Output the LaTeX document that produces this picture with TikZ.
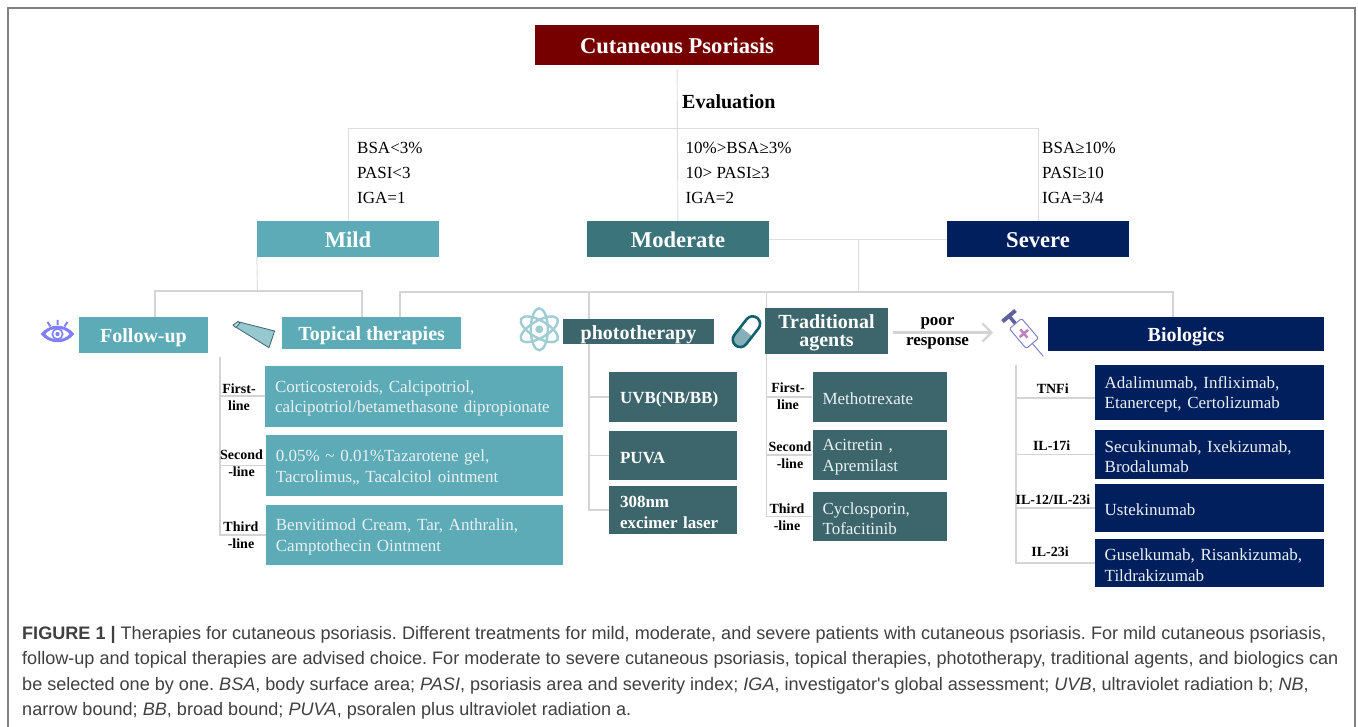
\documentclass[tikz,border=0pt]{standalone}
\usepackage{fontspec}
\setmainfont{Liberation Serif}
\newfontfamily\capfont{Liberation Sans}
\usetikzlibrary{arrows.meta, positioning}
\frenchspacing

\definecolor{maroonc}{HTML}{760000}
\definecolor{tealc}{HTML}{5DABB6}
\definecolor{modc}{HTML}{3C747C}
\definecolor{darkc}{HTML}{3D666C}
\definecolor{navyc}{HTML}{001F5C}
\definecolor{txtc}{HTML}{E9F1F3}
\definecolor{linec}{HTML}{D4D4D4}
\definecolor{pillc}{HTML}{10606F}

\tikzset{
    head/.style={text=white, font=\bfseries\fontsize{22.6}{25}\selectfont, align=center, inner sep=0pt, text height=17pt, text depth=0pt},
    subhead/.style={text=white, font=\bfseries\fontsize{20}{18}\selectfont, align=center, inner sep=0pt},
    oneline/.style={text height=16pt, text depth=0pt},
    drugbox/.style={text=txtc, font=\fontsize{17}{20.5}\selectfont, align=left, inner xsep=10pt, inner ysep=0pt, execute at begin node={\rule{0pt}{16pt}}},
    lightbox/.style={text=white, font=\bfseries\fontsize{17}{21}\selectfont, align=left, inner xsep=11pt, inner ysep=0pt, execute at begin node={\rule{0pt}{16pt}}},
    linelabel/.style={font=\bfseries\fontsize{14}{17}\selectfont, align=center, inner sep=0pt},
    critlabel/.style={font=\fontsize{17}{25}\selectfont, align=left, anchor=west, inner sep=0pt},
    thinline/.style={draw=linec!80, line width=0.9pt},
    treeline/.style={draw=linec, line width=1.8pt}
}

\begin{document}
\begin{tikzpicture}[x=1pt, y=-1pt]
    \path[use as bounding box, fill=white] (0,0) rectangle (1358,727);

    % --- Frame ---
    \draw[gray, line width=2pt] (8,727) -- (8,8) -- (1355,8) -- (1355,727);

    % --- Top level ---
    \node[head, fill=maroonc, minimum width=284pt, minimum height=40pt] (root) at (677,45) {Cutaneous Psoriasis};
    \node[head, fill=tealc, minimum width=182pt, minimum height=36pt] (mild) at (348,239) {Mild};
    \node[head, fill=modc, minimum width=182pt, minimum height=36pt] (moderate) at (678,239) {Moderate};
    \node[head, fill=navyc, minimum width=182pt, minimum height=36pt] (severe) at (1038,239) {Severe};

    \node[font=\bfseries\fontsize{20}{22}\selectfont, anchor=west, inner sep=0pt] (evaluation) at (682,102) {Evaluation};
    \node[critlabel] (critmild) at (357,173) {BSA<3\%\\PASI<3\\IGA=1};
    \node[critlabel] (critmod) at (685.5,173) {10\%>BSA≥3\%\\10> PASI≥3\\IGA=2};
    \node[critlabel] (critsev) at (1042,173) {BSA≥10\%\\PASI≥10\\IGA=3/4};

    \coordinate (evalj) at (678,128);
    \draw[thinline, shorten <=4pt] (root) -- (moderate);
    \draw[thinline] (evalj) -| (mild);
    \draw[thinline] (evalj) -| (severe);
    \draw[thinline] (moderate) -- (severe);

    % --- Treatment level ---
    \node[subhead, oneline, fill=tealc, minimum width=129pt, minimum height=36pt] (followup) at (143.5,335) {Follow-up};
    \node[subhead, oneline, fill=tealc, minimum width=178.5pt, minimum height=32pt] (topical) at (371.7,333) {Topical therapies};
    \node[subhead, oneline, fill=navyc, minimum width=276pt, minimum height=34pt] (biologics) at (1186,334) {Biologics};

    \coordinate (mildj) at (257.5,291);
    \coordinate (sevj) at (858.5,239);
    \coordinate (barj) at (858.5,292);
    \coordinate (fuj) at (155,291);
    \coordinate (tpj) at (362,291);
    \coordinate (tpk) at (400,292);
    \coordinate (bij) at (1173,292);
    \coordinate (phj) at (588.6,292);
    \coordinate (trj) at (766.5,292);

    \draw[thinline] (mild.south west) -- (mildj);
    \draw[thinline] (sevj) -- (barj);
    \draw[treeline] (fuj |- followup.north) -- (fuj) -- (tpj) -- (tpj |- topical.north);
    \draw[treeline] (tpk |- topical.north) -- (tpk) -- (bij) -- (bij |- biologics.north);

    % --- Topical therapies ---
    \node[drugbox, fill=tealc, text width=278pt, minimum height=61pt] (tpa) at (414,396.2) {Corticosteroids, Calcipotriol,\\calcipotriol/betamethasone dipropionate};
    \node[drugbox, fill=tealc, text width=277pt, minimum height=61pt] (tpb) at (414.4,465.5) {0.05\% \textasciitilde{} 0.01\%Tazarotene gel,\\Tacrolimus,, Tacalcitol ointment};
    \node[drugbox, fill=tealc, text width=277pt, minimum height=60pt] (tpc) at (414.4,535) {Benvitimod Cream, Tar, Anthralin,\\Camptothecin Ointment};
    \coordinate (tptop) at (220,357);
    \foreach \bx in {tpa,tpb,tpc}
        \draw[treeline] (tptop) |- (\bx.west);
    \node[linelabel] (tpla) at (239,397) {First-\\line};
    \node[linelabel] (tplb) at (241.5,463) {Second\\-line};
    \node[linelabel] (tplc) at (241,535) {Third\\-line};

    % --- Phototherapy ---
    \node[lightbox, fill=darkc, text width=106pt, minimum height=50pt] (pta) at (673,397) {UVB(NB/BB)};
    \node[lightbox, fill=darkc, text width=106pt, minimum height=49pt] (ptb) at (673,455.5) {PUVA};
    \node[lightbox, fill=darkc, text width=106pt, minimum height=48pt] (ptc) at (673,510) {308nm\\excimer laser};
    \foreach \bx in {pta,ptb,ptc}
        \draw[treeline] (phj) |- (\bx.west);
    \node[subhead, oneline, fill=darkc, minimum width=151pt, minimum height=25pt] (photo) at (638.5,331.5) {phototherapy};

    % --- Traditional agents ---
    \node[drugbox, fill=darkc, text width=114.5pt, minimum height=50pt] (tra) at (879.8,397) {Methotrexate};
    \node[drugbox, fill=darkc, text width=114.5pt, minimum height=50pt] (trb) at (879.8,455) {Acitretin ,\\Apremilast};
    \node[drugbox, fill=darkc, text width=114.5pt, minimum height=49pt] (trc) at (879.8,516.5) {Cyclosporin,\\Tofacitinib};
    \foreach \bx in {tra,trb,trc}
        \draw[treeline] (trj) |- (\bx.west);
    \node[subhead, fill=darkc, minimum width=123pt, minimum height=46pt] (tradit) at (826.5,331) {\rule{0pt}{17pt}Traditional\\agents};
    \node[linelabel] (trla) at (788,396.7) {First-\\line};
    \node[linelabel] (trlb) at (790,455.5) {Second\\-line};
    \node[linelabel] (trlc) at (787,517) {Third\\-line};

    % poor response
    \coordinate (polen) at (993,332.5);
    \draw[treeline, line width=2.2pt, shorten <=5pt, -{Straight Barb[length=9pt, width=18pt, line width=2.2pt]}] (tradit.east |- polen) -- (polen);
    \node[linelabel, font=\bfseries\fontsize{17}{20}\selectfont] (poor) at (937.5,333) {poor\\response};

    % --- Biologics ---
    \node[drugbox, fill=navyc, text width=209pt, minimum height=55pt] (bia) at (1209.2,392.5) {Adalimumab, Infliximab,\\Etanercept, Certolizumab};
    \node[drugbox, fill=navyc, text width=209pt, minimum height=49pt] (bib) at (1209.2,454.5) {Secukinumab, Ixekizumab,\\Brodalumab};
    \node[drugbox, fill=navyc, text width=209pt, minimum height=48pt] (bic) at (1209.2,508) {Ustekinumab};
    \node[drugbox, fill=navyc, text width=209pt, minimum height=48pt] (bid) at (1209.2,563) {Guselkumab, Risankizumab,\\Tildrakizumab};
    \coordinate (bitop) at (1015.7,365);
    \draw[treeline] (bitop) |- ([yshift=-5.5pt]bia.west);
    \foreach \bx in {bib,bic,bid}
        \draw[treeline] (bitop) |- (\bx.west);
    \node[linelabel] (bila) at (1052.7,389) {TNFi};
    \node[linelabel] (bilb) at (1051.7,445.7) {IL-17i};
    \node[linelabel] (bilc) at (1053,500) {IL-12/IL-23i};
    \node[linelabel] (bild) at (1050,551.7) {IL-23i};

    % --- Icons ---
    % eye
    \begin{scope}[shift={(57.5,334)}]
        \fill[blue!50!white] (-17,0) .. controls (-8,-11) and (8,-11) .. (17,0) .. controls (8,11) and (-8,11) .. (-17,0) -- cycle;
        \fill[white] (-12,0) .. controls (-6,-7) and (6,-7) .. (12,0) .. controls (6,7) and (-6,7) .. (-12,0) -- cycle;
        \draw[blue!50!white, line width=1.6pt] (0,0) circle (5.2);
        \fill[blue!50!white] (0,0) circle (2.2);
        \draw[blue!50!white, line width=2pt] (0,-9) -- (0,-14) (-7,-7.5) -- (-10,-12) (7,-7.5) -- (10,-12);
    \end{scope}
    % tube
    \draw[darkc, fill=tealc!65!white, line width=0.8pt] (238,321.7) -- (274.6,331) -- (269,347.7) -- (234,326) -- cycle;
    \draw[darkc, fill=tealc!40!white, line width=0.8pt] (233,325) -- (238,321.7) -- (240,323) -- (236,327.5) -- cycle;
    % atom
    \begin{scope}[shift={(539.3,329.3)}]
        \foreach \ang in {30,90,150}
            \draw[tealc!60!white, line width=2.4pt, rotate=\ang] (0,0) ellipse (21 and 8.5);
        \fill[tealc!60!white] (0,0) circle (4);
    \end{scope}
    % pill
    \begin{scope}[shift={(746.4,331.7)}, rotate=52]
        \fill[rounded corners=7pt, pillc!50!white] (0,-7.5) -- (-17.5,-7.5) -- (-17.5,7.5) -- (0,7.5);
        \draw[pillc, line width=2.6pt, rounded corners=7.5pt] (-17.5,-7.5) rectangle (17.5,7.5);
    \end{scope}
    % syringe
    \begin{scope}[shift={(1009,316)}, rotate=-49.6]
        \draw[blue!25!gray, line width=4pt] (0,-8.5) -- (0,8.5);
        \draw[blue!25!gray, line width=3.5pt] (0,0) -- (10,0);
        \draw[blue!40!gray!70!white, fill=white, line width=1pt, rounded corners=1.5pt] (10,-8) rectangle (36,8);
        \draw[blue!40!gray!70!white, line width=1pt] (36,0) -- (53,0);
        \draw[violet!50!white, line width=2.5pt] (17.5,0) -- (28.5,0) (23,-5.5) -- (23,5.5);
    \end{scope}

    % --- Caption ---
    \node[anchor=north west, inner sep=0pt, text=black!75, align=left, font=\capfont\fontsize{18.08}{25.5}\selectfont] (caption) at (22,626) {{\bfseries FIGURE 1 | }Therapies for cutaneous psoriasis. Different treatments for mild, moderate, and severe patients with cutaneous psoriasis. For mild cutaneous psoriasis,\\follow-up and topical therapies are advised choice. For moderate to severe cutaneous psoriasis, topical therapies, phototherapy, traditional agents, and biologics can\\be selected one by one. \textit{BSA}, body surface area; \textit{PASI}, psoriasis area and severity index; \textit{IGA}, investigator's global assessment; \textit{UVB}, ultraviolet radiation b; \textit{NB},\\narrow bound; \textit{BB}, broad bound; \textit{PUVA}, psoralen plus ultraviolet radiation a.};
\end{tikzpicture}
\end{document}
